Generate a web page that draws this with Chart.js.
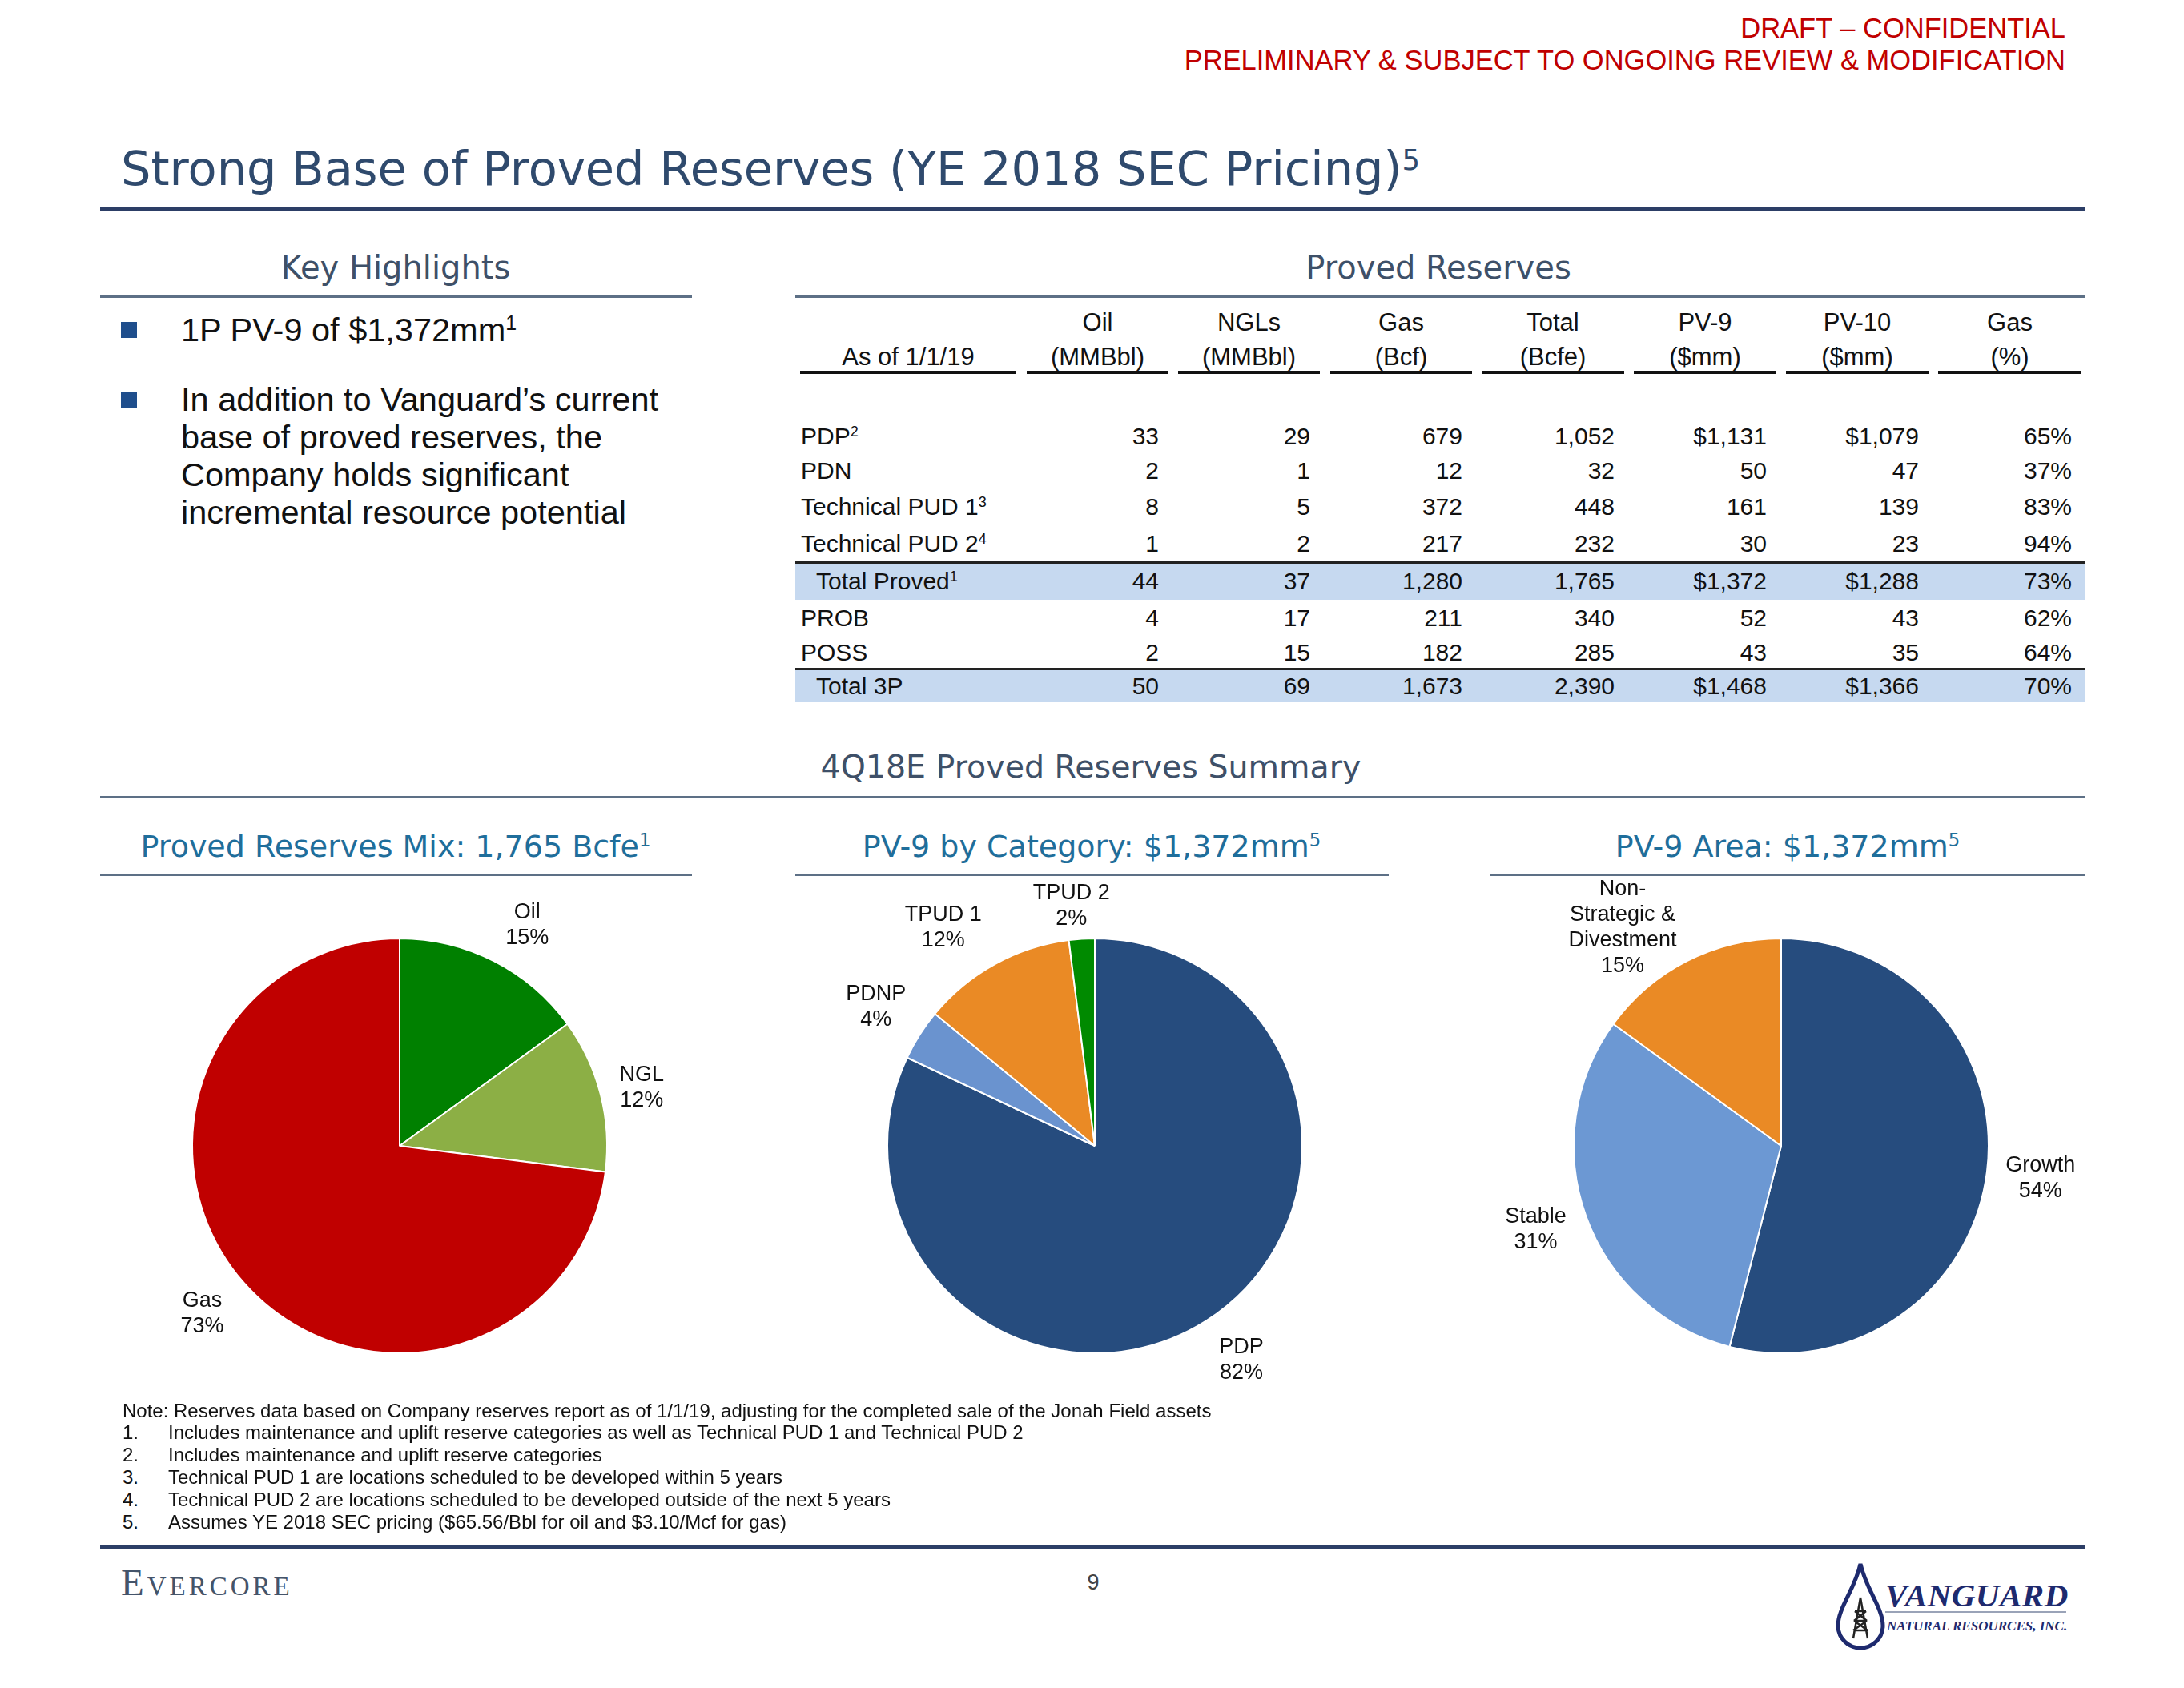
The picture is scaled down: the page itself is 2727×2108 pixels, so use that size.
<!DOCTYPE html>
<html>
<head>
<meta charset="utf-8">
<title>Strong Base of Proved Reserves</title>
<script src="https://cdn.jsdelivr.net/npm/chart.js@4.4.1/dist/chart.umd.min.js"></script>
<style>
  body { margin: 0; width: 2727px; height: 2108px; background: #fff; position: relative; overflow: hidden;
         font-family: "Liberation Sans", Arial, sans-serif; color: #111; }
  .t { position: absolute; white-space: nowrap; line-height: 1; transform: translateY(-50%); }
  .c { transform: translate(-50%, -50%); }
  .r { transform: translate(-100%, -50%); }
  .head { font-family: "DejaVu Sans", Verdana, sans-serif; }
  .rule { position: absolute; }
  sup { font-size: 60%; vertical-align: 0; position: relative; top: -0.55em; }
  canvas { position: absolute; }
  .bullet { position: absolute; width: 20px; height: 20px; background: #1F4E8C; }
</style>
</head>
<body>

<!-- header -->
<div class="t r" style="left:2579px;top:35px;font-size:34.5px;color:#C00000;">DRAFT &ndash; CONFIDENTIAL</div>
<div class="t r" style="left:2579px;top:75px;font-size:34.5px;color:#C00000;">PRELIMINARY &amp; SUBJECT TO ONGOING REVIEW &amp; MODIFICATION</div>
<div class="t head" style="left:151px;top:210px;font-size:59px;color:#2F4A6D;">Strong Base of Proved Reserves (YE 2018 SEC Pricing)<sup>5</sup></div>
<div class="rule" style="left:125px;top:258px;width:2478px;height:6px;background:#2C3E66;"></div>

<!-- key highlights -->
<div class="t c head" style="left:494px;top:334px;font-size:40px;color:#3E5068;">Key Highlights</div>
<div class="rule" style="left:125px;top:369px;width:739px;height:3px;background:#5D7086;"></div>
<div class="bullet" style="left:151px;top:402px;"></div>
<div class="t" style="left:226px;top:412px;font-size:41.5px;">1P PV-9 of $1,372mm<sup>1</sup></div>
<div class="bullet" style="left:151px;top:489px;"></div>
<div class="t" style="left:226px;top:499px;font-size:41.5px;">In addition to Vanguard&rsquo;s current</div>
<div class="t" style="left:226px;top:546px;font-size:41.5px;">base of proved reserves, the</div>
<div class="t" style="left:226px;top:593px;font-size:41.5px;">Company holds significant</div>
<div class="t" style="left:226px;top:640px;font-size:41.5px;">incremental resource potential</div>

<!-- proved reserves table -->
<div class="t c head" style="left:1796px;top:334px;font-size:40px;color:#3E5068;">Proved Reserves</div>
<div class="rule" style="left:993px;top:369px;width:1610px;height:3px;background:#5D7086;"></div>
<div id="table"></div>

<!-- summary -->
<div class="t c head" style="left:1362px;top:958px;font-size:39.5px;color:#3E5068;">4Q18E Proved Reserves Summary</div>
<div class="rule" style="left:125px;top:994px;width:2478px;height:3px;background:#5D7086;"></div>

<div class="t c head" style="left:494px;top:1057px;font-size:38px;color:#1F6E9B;">Proved Reserves Mix: 1,765 Bcfe<sup>1</sup></div>
<div class="t c head" style="left:1363px;top:1057px;font-size:38px;color:#1F6E9B;">PV-9 by Category: $1,372mm<sup>5</sup></div>
<div class="t c head" style="left:2232px;top:1057px;font-size:38px;color:#1F6E9B;">PV-9 Area: $1,372mm<sup>5</sup></div>
<div class="rule" style="left:125px;top:1091px;width:739px;height:3px;background:#5D7086;"></div>
<div class="rule" style="left:993px;top:1091px;width:741px;height:3px;background:#5D7086;"></div>
<div class="rule" style="left:1861px;top:1091px;width:742px;height:3px;background:#5D7086;"></div>

<canvas id="mixChart" width="800" height="760" style="left:99px;top:1051px;"></canvas>
<canvas id="categoryChart" width="800" height="760" style="left:967px;top:1051px;"></canvas>
<canvas id="areaChart" width="800" height="760" style="left:1824px;top:1051px;"></canvas>

<!-- footnotes -->
<div style="position:absolute;left:0;top:0;font-size:24px;color:#111;">
  <div class="t" style="left:153px;top:1762px;">Note: Reserves data based on Company reserves report as of 1/1/19, adjusting for the completed sale of the Jonah Field assets</div>
  <div class="t" style="left:153px;top:1789px;">1.</div><div class="t" style="left:210px;top:1789px;">Includes maintenance and uplift reserve categories as well as Technical PUD 1 and Technical PUD 2</div>
  <div class="t" style="left:153px;top:1817px;">2.</div><div class="t" style="left:210px;top:1817px;">Includes maintenance and uplift reserve categories</div>
  <div class="t" style="left:153px;top:1845px;">3.</div><div class="t" style="left:210px;top:1845px;">Technical PUD 1 are locations scheduled to be developed within 5 years</div>
  <div class="t" style="left:153px;top:1873px;">4.</div><div class="t" style="left:210px;top:1873px;">Technical PUD 2 are locations scheduled to be developed outside of the next 5 years</div>
  <div class="t" style="left:153px;top:1901px;">5.</div><div class="t" style="left:210px;top:1901px;">Assumes YE 2018 SEC pricing ($65.56/Bbl for oil and $3.10/Mcf for gas)</div>
</div>

<!-- footer -->
<div class="rule" style="left:125px;top:1929px;width:2478px;height:6px;background:#2C3E66;"></div>
<div class="t" style="left:151px;top:1976px;font-family:'Liberation Serif',serif;font-size:47px;font-variant:small-caps;letter-spacing:4px;color:#44546A;">Evercore</div>
<div class="t c" style="left:1365px;top:1976px;font-size:27px;color:#444;">9</div>
<svg style="position:absolute;left:2290px;top:1950px;" width="66" height="110" viewBox="0 0 66 110">
  <path d="M33,3 C26,35 5,58 5,80 A28,28 0 0 0 61,80 C61,58 40,35 33,3 Z" fill="none" stroke="#1E2A6E" stroke-width="5"/>
  <path d="M33,45 L24,96 M33,45 L42,96 M26,62 L40,62 M25,74 L41,74 M24,86 L42,86 M26,62 L41,74 M40,62 L25,74 M25,74 L42,86 M41,74 L24,86" stroke="#222" stroke-width="2.5" fill="none"/>
</svg>
<div class="t" style="left:2354px;top:1992px;font-family:'Liberation Serif',serif;font-style:italic;font-weight:bold;font-size:41px;color:#1E2A6E;letter-spacing:0.5px;">VANGUARD</div>
<div class="rule" style="left:2354px;top:2012px;width:226px;height:2px;background:#9AA3B8;"></div>
<div class="t" style="left:2356px;top:2030px;font-family:'Liberation Serif',serif;font-style:italic;font-weight:bold;font-size:17px;color:#1E2A6E;">NATURAL RESOURCES, INC.</div>

<script>
// Proved reserves table (as of 1/1/19)
const rowLabels = ['PDP', 'PDN', 'Technical PUD 1', 'Technical PUD 2', 'Total Proved', 'PROB', 'POSS', 'Total 3P'];
const rowNotes = ['2', '', '3', '4', '1', '', '', ''];
const oilMMBbl = [33, 2, 8, 1, 44, 4, 2, 50];
const nglMMBbl = [29, 1, 5, 2, 37, 17, 15, 69];
const gasBcf = [679, 12, 372, 217, 1280, 211, 182, 1673];
const totalBcfe = [1052, 32, 448, 232, 1765, 340, 285, 2390];
const pv9 = [1131, 50, 161, 30, 1372, 52, 43, 1468];
const pv10 = [1079, 47, 139, 23, 1288, 43, 35, 1366];
const gasPct = [65, 37, 83, 94, 73, 62, 64, 70];
const headTop = ['', 'Oil', 'NGLs', 'Gas', 'Total', 'PV-9', 'PV-10', 'Gas'];
const headBottom = ['As of 1/1/19', '(MMBbl)', '(MMBbl)', '(Bcf)', '(Bcfe)', '($mm)', '($mm)', '(%)'];

// Pie data (percent of total)
const mixLabels = ['Oil', 'NGL', 'Gas'];
const mixValues = [15, 12, 73];
const categoryLabels = ['PDP', 'PDNP', 'TPUD 1', 'TPUD 2'];
const categoryValues = [82, 4, 12, 2];
const areaLabels = ['Growth', 'Stable', 'Non-\nStrategic &\nDivestment'];
const areaValues = [54, 31, 15];

// ---- table ----
const table = document.getElementById('table');
const colLeft = [999, 1282, 1471, 1661, 1850, 2040, 2230, 2420];
const colRight = [1269, 1459, 1648, 1838, 2028, 2218, 2408, 2599];
const rowY = [545, 588, 633, 679, 726, 772, 815, 857];
const dollarRows = [0, 4, 7];
const fmt = n => n.toLocaleString('en-US');

function add(html, style) {
  const d = document.createElement('div');
  d.innerHTML = html;
  d.style.cssText = style;
  table.appendChild(d);
  return d;
}

// highlighted total rows
[[4, 702, 47], [7, 835, 42]].forEach(([i, top, h]) => {
  add('', `position:absolute;left:993px;top:${top}px;width:1610px;height:${h}px;background:#C6D9F0;`);
  add('', `position:absolute;left:993px;top:${top - 1}px;width:1610px;height:3px;background:#222;`);
});

headTop.forEach((h, c) => {
  const mid = (colLeft[c] + colRight[c]) / 2;
  if (h) add(h, `position:absolute;left:${mid}px;top:402px;font-size:31px;line-height:1;transform:translate(-50%,-50%);white-space:nowrap;`);
  add(headBottom[c], `position:absolute;left:${mid}px;top:445px;font-size:31px;line-height:1;transform:translate(-50%,-50%);white-space:nowrap;`);
  add('', `position:absolute;left:${colLeft[c]}px;top:463px;width:${colRight[c] - colLeft[c]}px;height:4px;background:#111;`);
});

const columns = [oilMMBbl, nglMMBbl, gasBcf, totalBcfe, pv9, pv10, gasPct];
rowLabels.forEach((lab, i) => {
  const indent = (i === 4 || i === 7) ? 1019 : 1000;
  const sup = rowNotes[i] ? `<sup>${rowNotes[i]}</sup>` : '';
  add(lab + sup, `position:absolute;left:${indent}px;top:${rowY[i]}px;font-size:30px;line-height:1;transform:translateY(-50%);white-space:nowrap;`);
  columns.forEach((col, c) => {
    let txt = fmt(col[i]);
    if ((c === 4 || c === 5) && dollarRows.includes(i)) txt = '$' + txt;
    if (c === 6) txt += '%';
    add(txt, `position:absolute;left:${colRight[c + 1] - 12}px;top:${rowY[i]}px;font-size:30px;line-height:1;transform:translate(-100%,-50%);white-space:nowrap;`);
  });
});

// ---- pies ----
const outsideLabels = {
  id: 'outsideLabels',
  afterDatasetsDraw(chart, args, opts) {
    const ctx = chart.ctx;
    const meta = chart.getDatasetMeta(0);
    const values = chart.data.datasets[0].data;
    ctx.save();
    ctx.font = '27px "Liberation Sans", Arial, sans-serif';
    ctx.fillStyle = '#111';
    ctx.textAlign = 'center';
    ctx.textBaseline = 'middle';
    meta.data.forEach((arc, i) => {
      const p = arc.getProps(['x', 'y', 'startAngle', 'endAngle', 'outerRadius'], true);
      const mid = (p.startAngle + p.endAngle) / 2 + opts.shift[i] * Math.PI / 180;
      const d = p.outerRadius * opts.distance[i];
      const cx = p.x + Math.cos(mid) * d;
      const cy = p.y + Math.sin(mid) * d;
      const lines = chart.data.labels[i].split('\n').concat(values[i] + '%');
      const top = cy - (lines.length - 1) * 32 / 2;
      lines.forEach((t, k) => ctx.fillText(t, cx, top + k * 32));
    });
    ctx.restore();
  }
};

function makePie(id, labels, values, colors, distance, shift) {
  return new Chart(document.getElementById(id).getContext('2d'), {
    type: 'pie',
    data: {
      labels: labels,
      datasets: [{
        data: values,
        backgroundColor: colors,
        borderColor: '#ffffff',
        borderWidth: 2,
        radius: 259
      }]
    },
    options: {
      responsive: false,
      animation: false,
      devicePixelRatio: 1,
      events: [],
      plugins: {
        legend: { display: false },
        tooltip: { enabled: false },
        outsideLabels: { distance: distance, shift: shift }
      }
    },
    plugins: [outsideLabels]
  });
}

const mixChart = makePie('mixChart', mixLabels, mixValues,
  ['#008000', '#8CAF45', '#C00000'], [1.23, 1.20, 1.25], [3, 1, 1]);
const categoryChart = makePie('categoryChart', categoryLabels, categoryValues,
  ['#264C7E', '#6A93CF', '#EA8A25', '#008A00'], [1.25, 1.25, 1.28, 1.16], [-2, 0, -6, -2]);
const areaChart = makePie('areaChart', areaLabels, areaValues,
  ['#264C7E', '#6C98D3', '#EA8A25'], [1.26, 1.25, 1.30], [0, 1, -9]);
</script>
</body>
</html>
